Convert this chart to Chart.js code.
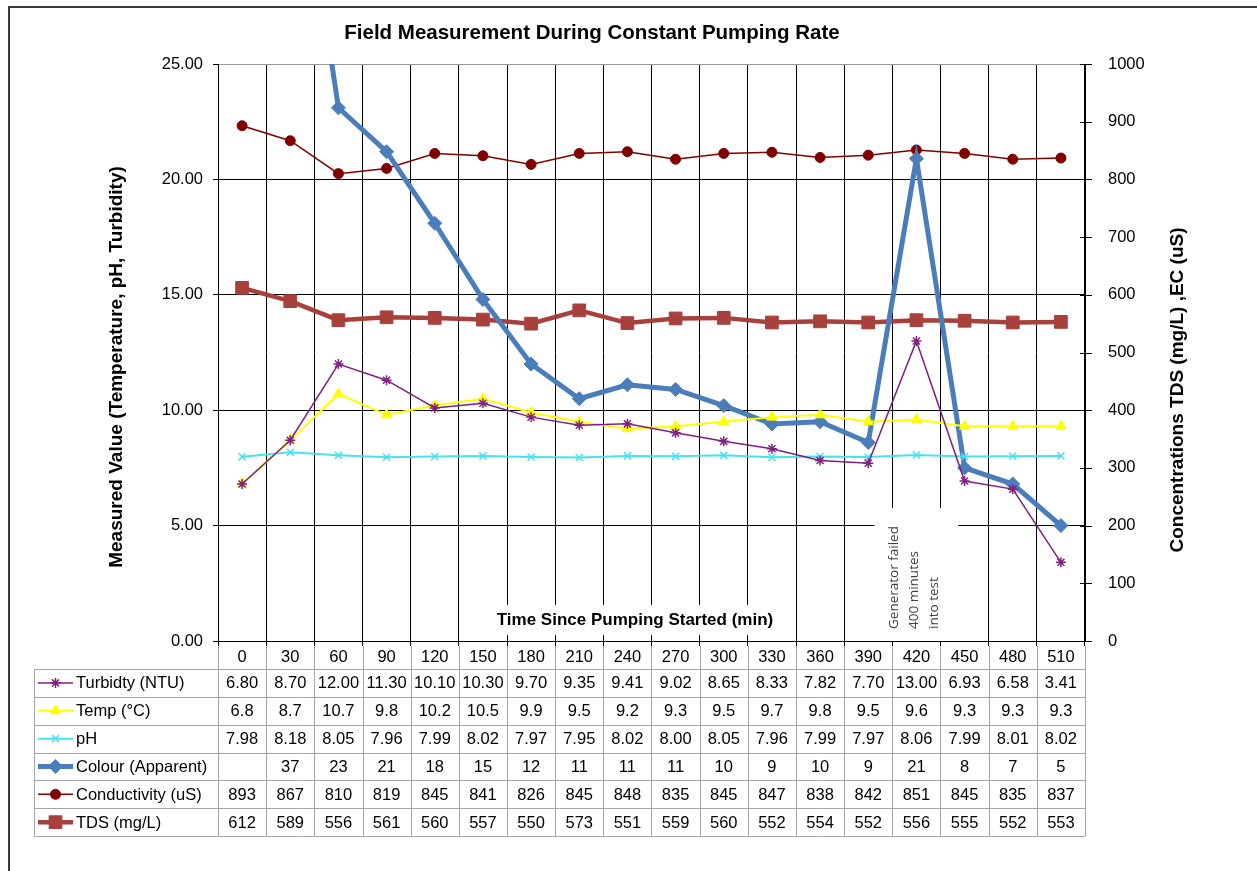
<!DOCTYPE html>
<html>
<head>
<meta charset="utf-8">
<script src="https://cdn.jsdelivr.net/npm/chart.js@4.4.1/dist/chart.umd.min.js"></script>
<style>
  html, body { margin: 0; padding: 0; background: #fff; }
</style>
</head>
<body>
<canvas id="myChart" width="1257" height="871"></canvas>
<script>
// Time since pumping started (min)
const minutes = ['0', '30', '60', '90', '120', '150', '180', '210', '240', '270', '300', '330', '360', '390', '420', '450', '480', '510'];

// Left axis series
const turbidity = [6.80, 8.70, 12.00, 11.30, 10.10, 10.30, 9.70, 9.35, 9.41, 9.02, 8.65, 8.33, 7.82, 7.70, 13.00, 6.93, 6.58, 3.41];
const temp = [6.8, 8.7, 10.7, 9.8, 10.2, 10.5, 9.9, 9.5, 9.2, 9.3, 9.5, 9.7, 9.8, 9.5, 9.6, 9.3, 9.3, 9.3];
const ph = [7.98, 8.18, 8.05, 7.96, 7.99, 8.02, 7.97, 7.95, 8.02, 8.00, 8.05, 7.96, 7.99, 7.97, 8.06, 7.99, 8.01, 8.02];
const colour = [null, 37, 23.1, 21.2, 18.1, 14.8, 12.0, 10.5, 11.1, 10.9, 10.2, 9.4, 9.5, 8.6, 20.9, 7.5, 6.8, 5.0];

// Right axis series
const conductivity = [893, 867, 810, 819, 845, 841, 826, 845, 848, 835, 845, 847, 838, 842, 851, 845, 835, 837];
const tds = [612, 589, 556, 561, 560, 557, 550, 573, 551, 559, 560, 552, 554, 552, 556, 555, 552, 553];

const FONT = "'Liberation Sans', Arial, sans-serif";
Chart.defaults.font.family = FONT;
Chart.defaults.color = '#000';

const canvas = document.getElementById('myChart');
const context = canvas.getContext('2d');

// Rows of the data table under the chart
const tableRows = [
  { label: 'Turbidty (NTU)', ds: 0, fmt: v => v.toFixed(2) },
  { label: 'Temp (°C)', ds: 1, fmt: v => v.toFixed(1) },
  { label: 'pH', ds: 2, fmt: v => v.toFixed(2) },
  { label: 'Colour (Apparent)', ds: 3, fmt: v => v == null ? '' : String(Math.round(v)) },
  { label: 'Conductivity (uS)', ds: 4, fmt: v => String(v) },
  { label: 'TDS (mg/L)', ds: 5, fmt: v => String(v) }
];

function drawMarker(ctx, ds, x, y) {
  const opts = { pointStyle: ds.pointStyle, radius: ds.pointRadius, rotation: 0, borderWidth: ds.pointBorderWidth };
  ctx.save();
  ctx.fillStyle = ds.pointBackgroundColor;
  ctx.strokeStyle = ds.pointBorderColor;
  ctx.lineWidth = ds.pointBorderWidth;
  Chart.helpers.drawPoint(ctx, opts, x, y);
  ctx.restore();
}

const extrasPlugin = {
  id: 'extras',
  beforeDraw(chart) {
    const ctx = chart.ctx;
    ctx.save();
    ctx.fillStyle = '#fff';
    ctx.fillRect(0, 0, chart.width, chart.height);
    // outer frame
    ctx.strokeStyle = '#3a3a3a';
    ctx.lineWidth = 2;
    ctx.beginPath();
    ctx.moveTo(9, chart.height);
    ctx.lineTo(9, 7);
    ctx.lineTo(chart.width, 7);
    ctx.stroke();
    ctx.restore();
  },
  beforeDatasetsDraw(chart) {
    const ctx = chart.ctx;
    const x = chart.scales.x;
    const area = chart.chartArea;
    ctx.save();
    // x axis title sits inside the plot on a white box
    ctx.fillStyle = '#fff';
    ctx.fillRect(495, 605, 282, 30);
    ctx.fillStyle = '#000';
    ctx.font = "bold 17px " + FONT;
    ctx.textAlign = 'center';
    ctx.textBaseline = 'middle';
    ctx.fillText('Time Since Pumping Started (min)', 635, 620);

    // generator failure note at 420 min
    const cx = x.getPixelForValue(14);
    ctx.fillStyle = '#fff';
    ctx.fillRect(cx - 42, 508, 84, area.bottom - 508);
    ctx.fillStyle = '#404040';
    ctx.font = "13.5px 'Open Sans', sans-serif";
    ctx.textAlign = 'left';
    ctx.textBaseline = 'middle';
    ctx.translate(cx, 629);
    ctx.rotate(-Math.PI / 2);
    ['Generator failed', '400 minutes', 'into test'].forEach((t, i) => {
      ctx.fillText(t, 0, -22 + i * 20);
    });
    ctx.restore();
  },
  afterDraw(chart) {
    const ctx = chart.ctx;
    const x = chart.scales.x;
    const y2 = chart.scales.y2;
    const area = chart.chartArea;
    ctx.save();

    // chart title
    ctx.fillStyle = '#000';
    ctx.font = "bold 20.5px " + FONT;
    ctx.textAlign = 'center';
    ctx.textBaseline = 'middle';
    ctx.fillText('Field Measurement During Constant Pumping Rate', 592, 33);

    // axis titles
    ctx.font = "bold 19px " + FONT;
    ctx.save();
    ctx.translate(117, 367);
    ctx.rotate(-Math.PI / 2);
    ctx.fillText('Measured Value (Temperature, pH, Turbidity)', 0, 0);
    ctx.restore();
    ctx.save();
    ctx.translate(1178, 390);
    ctx.rotate(-Math.PI / 2);
    ctx.fillText('Concentrations TDS (mg/L) ,EC (uS)', 0, 0);
    ctx.restore();

    // crossing tick marks on the right axis
    ctx.strokeStyle = '#000';
    ctx.lineWidth = 1;
    ctx.beginPath();
    y2.ticks.forEach(t => {
      const py = Math.round(y2.getPixelForValue(t.value)) + 0.5;
      ctx.moveTo(area.right - 5, py);
      ctx.lineTo(area.right + 7, py);
    });
    ctx.stroke();

    // data table
    const half = (x.getPixelForValue(1) - x.getPixelForValue(0)) / 2;
    const tableLeft = 34;
    const headTop = area.bottom;
    const bodyTop = headTop + 28;
    const rowH = 27.85;
    const bottom = bodyTop + rowH * tableRows.length;
    ctx.strokeStyle = '#a6a6a6';
    ctx.lineWidth = 1;
    ctx.beginPath();
    for (let r = 0; r <= tableRows.length; r++) {
      const py = Math.round(bodyTop + r * rowH) + 0.5;
      ctx.moveTo(tableLeft, py);
      ctx.lineTo(area.right, py);
    }
    ctx.moveTo(tableLeft + 0.5, bodyTop);
    ctx.lineTo(tableLeft + 0.5, bottom);
    for (let i = 0; i <= minutes.length; i++) {
      const px = Math.round(x.getPixelForValue(0) - half + i * half * 2) + 0.5;
      ctx.moveTo(px, headTop + 5);
      ctx.lineTo(px, bottom);
    }
    ctx.stroke();

    ctx.font = "16.5px " + FONT;
    ctx.textBaseline = 'middle';
    tableRows.forEach((row, r) => {
      const ds = chart.data.datasets[row.ds];
      const cy = bodyTop + r * rowH + rowH / 2;
      // legend key
      ctx.save();
      ctx.strokeStyle = ds.borderColor;
      ctx.lineWidth = ds.borderWidth;
      ctx.beginPath();
      ctx.moveTo(38, cy);
      ctx.lineTo(73, cy);
      ctx.stroke();
      ctx.restore();
      drawMarker(ctx, ds, 55.5, cy);
      ctx.fillStyle = '#000';
      ctx.textAlign = 'left';
      ctx.fillText(row.label, 76, cy + 1);
      ctx.textAlign = 'center';
      ds.data.forEach((v, i) => {
        ctx.fillText(row.fmt(v), x.getPixelForValue(i), cy + 1);
      });
    });
    ctx.restore();
  }
};

const config = {
  type: 'line',
  data: {
    labels: minutes,
    datasets: [
      {
        label: 'Turbidty (NTU)', data: turbidity, yAxisID: 'y',
        borderColor: '#802080', borderWidth: 1.5,
        pointStyle: 'star', pointRadius: 5, pointBorderWidth: 1.5,
        pointBorderColor: '#802080', pointBackgroundColor: '#802080'
      },
      {
        label: 'Temp (°C)', data: temp, yAxisID: 'y',
        borderColor: '#ffff00', borderWidth: 2,
        pointStyle: 'triangle', pointRadius: 6, pointBorderWidth: 1,
        pointBorderColor: '#ffff00', pointBackgroundColor: '#ffff00'
      },
      {
        label: 'pH', data: ph, yAxisID: 'y',
        borderColor: '#45e3f0', borderWidth: 2,
        pointStyle: 'crossRot', pointRadius: 5, pointBorderWidth: 1.5,
        pointBorderColor: '#45e3f0', pointBackgroundColor: '#45e3f0'
      },
      {
        label: 'Colour (Apparent)', data: colour, yAxisID: 'y',
        borderColor: '#4a7ebb', borderWidth: 5, clip: 0,
        pointStyle: 'rectRot', pointRadius: 7, pointBorderWidth: 1,
        pointBorderColor: '#4a7ebb', pointBackgroundColor: '#4a7ebb'
      },
      {
        label: 'Conductivity (uS)', data: conductivity, yAxisID: 'y2',
        borderColor: '#800000', borderWidth: 1.5,
        pointStyle: 'circle', pointRadius: 5, pointBorderWidth: 1,
        pointBorderColor: '#800000', pointBackgroundColor: '#800000'
      },
      {
        label: 'TDS (mg/L)', data: tds, yAxisID: 'y2',
        borderColor: '#a8403c', borderWidth: 4.5,
        pointStyle: 'rect', pointRadius: 9, pointBorderWidth: 1,
        pointBorderColor: '#a8403c', pointBackgroundColor: '#a8403c'
      }
    ]
  },
  options: {
    responsive: false,
    animation: false,
    layout: { padding: { top: 64, left: 0, right: 0, bottom: 0 } },
    elements: { line: { tension: 0 } },
    plugins: {
      legend: { display: false },
      title: { display: false },
      tooltip: { enabled: false }
    },
    scales: {
      x: {
        offset: true,
        grid: { offset: true, color: '#000', tickColor: '#000', tickLength: 5 },
        border: { color: '#000' },
        ticks: { color: '#000', font: { size: 16.5 }, padding: 2, maxRotation: 0, autoSkip: false },
        afterFit: s => { s.height = 230; }
      },
      y: {
        position: 'left',
        min: 0, max: 25,
        ticks: { stepSize: 5, padding: 10, color: '#000', font: { size: 16.5 }, callback: v => v.toFixed(2) },
        grid: { color: c => (c.tick && c.tick.value === 25) ? '#999' : '#000', tickColor: '#000', tickLength: 5 },
        border: { color: '#000' },
        afterFit: s => { s.width = 218; }
      },
      y2: {
        position: 'right',
        min: 0, max: 1000,
        ticks: { stepSize: 100, padding: 15, color: '#000', font: { size: 16.5 }, callback: v => String(v) },
        grid: { display: false },
        border: { display: true, color: '#000' },
        afterFit: s => { s.width = 172; }
      }
    }
  },
  plugins: [extrasPlugin]
};

new Chart(context, config);
</script>
</body>
</html>
